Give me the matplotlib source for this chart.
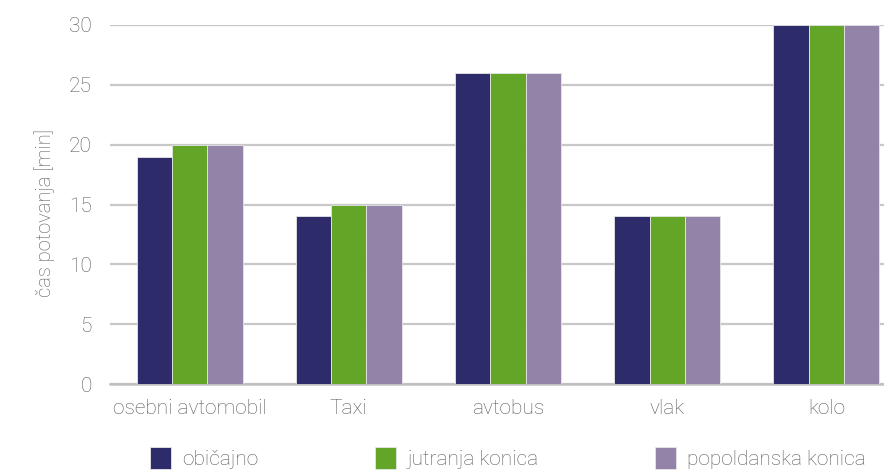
import numpy as np
import matplotlib.pyplot as plt

plt.rcParams['font.family'] = ['Roboto', 'DejaVu Sans']

categories = ['osebni avtomobil', 'Taxi', 'avtobus', 'vlak', 'kolo']
obicajno = [19, 14, 26, 14, 30]
jutranja = [20, 15, 26, 14, 30]
popoldanska = [20, 15, 26, 14, 30]
series_names = ['običajno', 'jutranja konica', 'popoldanska konica']
colors = ['#2e2b6a', '#62a527', '#9383a8']
grey = '#595959'
fs = 15

fig = plt.figure(figsize=(8.84, 4.71), dpi=100)
# plot area runs past the right edge of the figure
ax = fig.add_axes([110 / 884, 1 - 384 / 471, 796 / 884, 359 / 471])

x = np.arange(len(categories))
w = 2 / 9
for i, (vals, name, c) in enumerate(zip([obicajno, jutranja, popoldanska], series_names, colors)):
    ax.bar(x + (i - 1) * w, vals, w, color=c, label=name,
           edgecolor='#e6e6e6', linewidth=0.6, zorder=3)

ax.set_xlim(-0.5, len(categories) - 0.5)
ax.set_ylim(0, 30)
ax.set_yticks(range(0, 31, 5))
ax.set_xticks(x)
ax.set_xticklabels(categories)
ax.yaxis.grid(True, color='#c8c8c8', linewidth=1.6, zorder=0)
ax.set_axisbelow(True)
for s in ['left', 'right', 'top']:
    ax.spines[s].set_visible(False)
ax.spines['bottom'].set_color('#c0c0c0')
ax.spines['bottom'].set_linewidth(1.8)
ax.tick_params(axis='both', length=0, labelsize=fs, labelcolor=grey)
ax.tick_params(axis='y', pad=13)
ax.tick_params(axis='x', pad=11)
for lab in ax.get_xticklabels() + ax.get_yticklabels():
    lab.set_fontweight('light')

fig.text(45 / 884, 1 - 213 / 471, 'čas potovanja [min]', rotation=90,
         ha='center', va='center', fontsize=14.5, color=grey, fontweight='light')

fig.legend(loc='center', bbox_to_anchor=(508 / 884, 1 - 458 / 471), ncol=3,
           frameon=False, labelcolor=grey, handlelength=1.0,
           handleheight=1.3, handletextpad=0.55, columnspacing=5.6,
           prop={'weight': 'light', 'size': fs})

fig.savefig('out.png', dpi=100)
